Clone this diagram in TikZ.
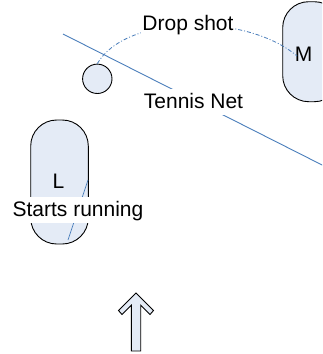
\documentclass[tikz,border=0pt]{standalone}
\usepackage{fontspec}
\setmainfont{Liberation Sans}
\definecolor{capfill}{RGB}{228,235,246}
\definecolor{netblue}{RGB}{74,126,187}
\tikzset{
  player/.style={draw=black, line width=0.9pt, fill=capfill, rounded corners=26pt,
    minimum width=57.6pt, inner sep=0pt},
  ballstyle/.style={draw=black, line width=0.9pt, fill=capfill, circle, minimum size=29.4pt, inner sep=0pt},
  netline/.style={draw=netblue, line width=0.9pt},
  shotline/.style={draw=netblue, line width=0.8pt, dash pattern=on 4pt off 2pt on 1pt off 2pt},
  tag/.style={fill=white, inner xsep=1pt, inner ysep=1.5pt, text height=18pt, text depth=5pt},
  bigtext/.style={font=\fontsize{21}{25}\selectfont},
  movearrow/.style={draw=black, line width=0.9pt, fill=capfill, line join=miter}
}
\begin{document}
\begin{tikzpicture}[x=1pt, y=-1pt, bigtext]
\useasboundingbox (0,0) rectangle (322,354);
\clip (0,0) rectangle (322,354);

% players
\node[player, minimum height=124pt] (L) at (59.5,182) {};
\node[bigtext] (Llbl) at (58.5,181) {L};
\node[player, minimum height=100pt] (M) at (311.5,51.7) {};
\node[bigtext] (Mlbl) at (303.5,54) {M};

% ball
\node[ballstyle] (ball) at (97.3,78.8) {};

% tennis net
\coordinate (netA) at (63,34);
\coordinate (netB) at (332,170);
\draw[netline] (netA) -- (netB);
\node[tag] (net) at (193.5,101.5) {Tennis Net};

% drop shot
\coordinate (shotEnd) at (297,56);
\draw[shotline] (ball.north) .. controls (125,15) and (245,12) .. (shotEnd);
\node[tag] (drop) at (188,23.5) {Drop shot};

% running line inside L
\coordinate (runA) at (88,180);
\coordinate (runB) at (68,240);
\draw[netline, line width=0.7pt] (runA) -- (runB);
\node[tag] (run) at (78,210.2) {Starts running};

% movement arrow
\draw[movearrow] (136,293) -- (153.5,310.5) -- (150,314.5) -- (140.7,305.2)
  -- (140.7,351) -- (131.3,351) -- (131.3,305.2) -- (122,314.5) -- (118.5,310.5) -- cycle;
\end{tikzpicture}
\end{document}
